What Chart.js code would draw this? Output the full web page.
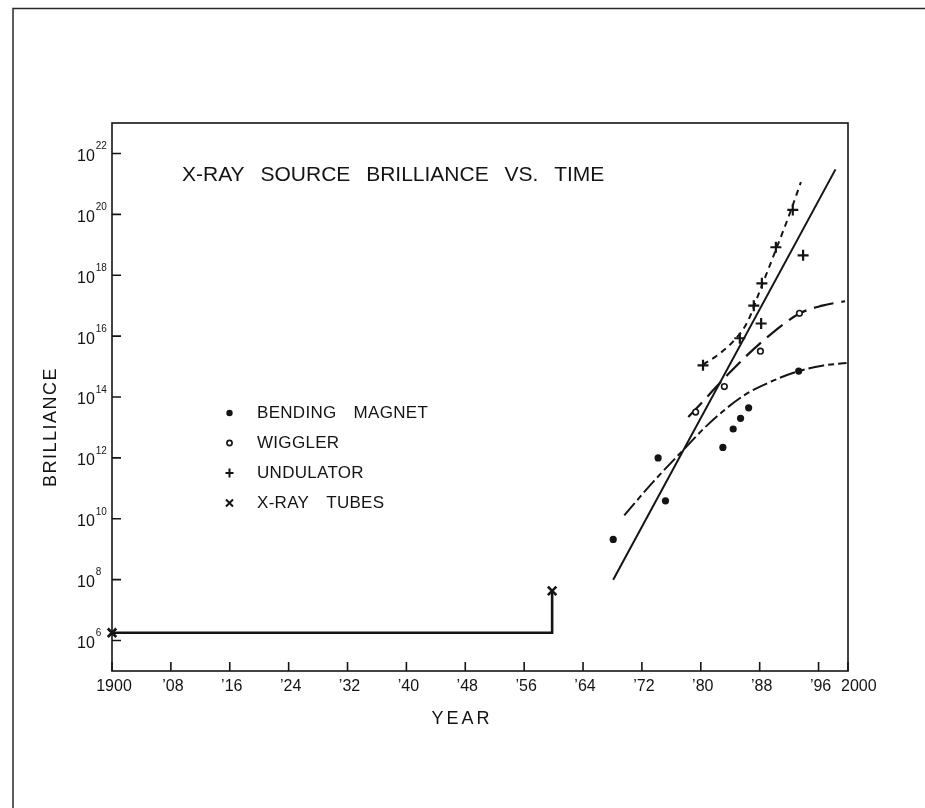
<!DOCTYPE html>
<html>
<head>
<meta charset="utf-8">
<title>X-Ray Source Brilliance vs. Time</title>
<script src="https://cdn.jsdelivr.net/npm/chart.js@4.4.1/dist/chart.umd.min.js"></script>
<style>
  html, body { margin: 0; padding: 0; background: #fff; }
  canvas { display: block; }
</style>
</head>
<body>
<canvas id="chart" width="925" height="808"></canvas>
<script>
// Axis ticks
const yearTicks = [1900, 1908, 1916, 1924, 1932, 1940, 1948, 1956, 1964, 1972, 1980, 1988, 1996, 2000];
const yearLabels = ['1900', '\u201908', '\u201916', '\u201924', '\u201932', '\u201940', '\u201948', '\u201956', '\u201964', '\u201972', '\u201980', '\u201988', '\u201996', '2000'];
const brillianceExponents = [6, 8, 10, 12, 14, 16, 18, 20, 22];

// Measured sources
const bendingYears  = [1968.1, 1974.2, 1975.2, 1983.0, 1984.4, 1985.4, 1986.5, 1993.3];
const bendingValues = [2.1e9, 1.0e12, 3.9e10, 2.2e12, 8.9e12, 2.0e13, 4.4e13, 7.1e14];

const wigglerYears  = [1979.3, 1983.2, 1988.1, 1993.4];
const wigglerValues = [3.2e13, 2.2e14, 3.2e15, 5.6e16];

const undulatorYears  = [1980.3, 1985.3, 1987.2, 1988.2, 1988.3, 1990.2, 1992.5, 1993.9];
const undulatorValues = [1.1e15, 8.5e15, 1.0e17, 2.6e16, 5.4e17, 8.3e18, 1.4e20, 4.5e18];

const tubeYears  = [1900, 1959.8];
const tubeValues = [1.8e6, 4.3e7];

// Trend curves
const trendYears  = [1968.1, 1998.3];
const trendValues = [1.0e8, 3.0e21];

const undulatorFitYears  = [1980.3, 1982.5, 1984.5, 1986.3, 1988.2, 1990.3, 1992.2, 1993.6];
const undulatorFitValues = [1.15e15, 2.6e15, 7.1e15, 2.8e16, 4.0e17, 7.9e18, 1.26e20, 1.15e21];

const wigglerFitYears  = [1978.3, 1981.0, 1983.8, 1988.3, 1993.4, 1996.5, 1999.6];
const wigglerFitValues = [2.2e13, 1.1e14, 5.9e14, 6.5e15, 5.5e16, 1.0e17, 1.4e17];

const bendingFitYears  = [1969.6, 1973.5, 1977.4, 1981.0, 1985.8, 1989.9, 1993.3, 1996.5, 1999.8];
const bendingFitValues = [1.3e10, 1.6e11, 1.6e12, 1.26e13, 1.1e14, 3.5e14, 7.1e14, 1.07e15, 1.3e15];

const INK = '#141414';
const FONT = '"Liberation Sans", Arial, sans-serif';

const pts = (xs, ys) => xs.map((x, i) => ({ x: x, y: ys[i] }));

function curve(xs, ys, dash, width) {
  return {
    data: pts(xs, ys),
    showLine: true,
    pointRadius: 0,
    borderColor: INK,
    borderWidth: width,
    borderDash: dash,
    cubicInterpolationMode: 'monotone',
    fill: false,
    clip: false,
    order: 5
  };
}

function drawLegendMarker(ctx, kind, x, y) {
  ctx.save();
  ctx.strokeStyle = INK;
  ctx.fillStyle = INK;
  ctx.lineWidth = 2;
  ctx.beginPath();
  if (kind === 'dot') {
    ctx.arc(x, y, 3.2, 0, Math.PI * 2);
    ctx.fill();
  } else if (kind === 'ring') {
    ctx.lineWidth = 1.6;
    ctx.arc(x, y, 2.6, 0, Math.PI * 2);
    ctx.stroke();
  } else if (kind === 'plus') {
    ctx.moveTo(x - 4, y); ctx.lineTo(x + 4, y);
    ctx.moveTo(x, y - 4.5); ctx.lineTo(x, y + 4.5);
    ctx.stroke();
  } else {
    ctx.moveTo(x - 3.5, y - 3.5); ctx.lineTo(x + 3.5, y + 3.5);
    ctx.moveTo(x + 3.5, y - 3.5); ctx.lineTo(x - 3.5, y + 3.5);
    ctx.stroke();
  }
  ctx.restore();
}

function spacedText(ctx, text, x, y, size, letter, word, align) {
  ctx.save();
  ctx.font = size + 'px ' + FONT;
  ctx.fillStyle = INK;
  ctx.textAlign = align || 'left';
  ctx.textBaseline = 'middle';
  ctx.letterSpacing = letter + 'px';
  ctx.wordSpacing = word + 'px';
  ctx.fillText(text, x, y);
  ctx.restore();
}

const decorations = {
  id: 'decorations',
  beforeDraw(chart) {
    const ctx = chart.ctx;
    ctx.save();
    ctx.fillStyle = '#fff';
    ctx.fillRect(0, 0, chart.width, chart.height);
    // page frame
    ctx.strokeStyle = '#2a2a2a';
    ctx.lineWidth = 1.5;
    ctx.beginPath();
    ctx.moveTo(13, chart.height);
    ctx.lineTo(13, 8.5);
    ctx.lineTo(chart.width, 8.5);
    ctx.stroke();
    ctx.restore();
  },
  beforeDatasetsDraw(chart) {
    const ctx = chart.ctx;
    const a = chart.chartArea;
    const xs = chart.scales.x;
    const ys = chart.scales.y;
    ctx.save();
    ctx.strokeStyle = INK;
    ctx.lineWidth = 1.6;
    ctx.strokeRect(a.left, a.top, a.right - a.left, a.bottom - a.top);

    // inward tick marks
    ctx.beginPath();
    xs.ticks.forEach(t => {
      const px = xs.getPixelForValue(t.value);
      ctx.moveTo(px, a.bottom);
      ctx.lineTo(px, a.bottom - 9);
    });
    ys.ticks.forEach(t => {
      const py = ys.getPixelForValue(t.value);
      ctx.moveTo(a.left, py);
      ctx.lineTo(a.left + 9, py);
    });
    ctx.stroke();

    // year labels; the final one sits just past the corner
    ctx.fillStyle = INK;
    ctx.textBaseline = 'middle';
    ctx.font = '16px ' + FONT;
    xs.ticks.forEach((t, i) => {
      const px = xs.getPixelForValue(t.value);
      const last = i === xs.ticks.length - 1;
      ctx.textAlign = last ? 'left' : 'center';
      ctx.fillText(yearLabels[i], last ? px - 7 : px + 2, a.bottom + 16);
    });

    // power-of-ten labels
    ys.ticks.forEach(t => {
      const py = ys.getPixelForValue(t.value) + 3;
      const exp = String(Math.round(Math.log10(t.value)));
      ctx.textAlign = 'left';
      ctx.font = '16px ' + FONT;
      const w = ctx.measureText('10').width;
      ctx.fillText('10', 77, py);
      ctx.font = '10px ' + FONT;
      ctx.fillText(exp, 77 + w + 1, py - 10);
    });
    ctx.restore();
  },
  afterDraw(chart) {
    const ctx = chart.ctx;
    // title
    spacedText(ctx, 'X-RAY SOURCE BRILLIANCE VS. TIME', 182, 175, 21, 0, 10, 'left');
    // axis titles
    spacedText(ctx, 'YEAR', 462, 719, 18, 3, 0, 'center');
    ctx.save();
    ctx.translate(51, 427);
    ctx.rotate(-Math.PI / 2);
    spacedText(ctx, 'BRILLIANCE', 0, 0, 18, 1.5, 0, 'center');
    ctx.restore();
    // key
    const rows = [
      ['dot', 'BENDING MAGNET', 413],
      ['ring', 'WIGGLER', 443],
      ['plus', 'UNDULATOR', 473],
      ['x', 'X-RAY TUBES', 503]
    ];
    rows.forEach(r => {
      drawLegendMarker(ctx, r[0], 229.5, r[2]);
      spacedText(ctx, r[1], 257, r[2], 17, 0.3, 12, 'left');
    });
  }
};

new Chart(document.getElementById('chart'), {
  type: 'scatter',
  data: {
    datasets: [
      // X-ray tubes: flat until 1960, then a step up
      {
        data: pts(tubeYears, tubeValues),
        showLine: true,
        stepped: 'before',
        borderColor: INK,
        borderWidth: 2.6,
        pointStyle: 'crossRot',
        pointRadius: 6,
        pointBorderWidth: 2.6,
        pointBorderColor: INK,
        clip: false,
        order: 1
      },
      curve(trendYears, trendValues, [], 2),
      curve(undulatorFitYears, undulatorFitValues, [6, 5], 2),
      curve(wigglerFitYears, wigglerFitValues, [20, 8], 2.2),
      curve(bendingFitYears, bendingFitValues, [16, 4, 6, 4], 2),
      {
        data: pts(bendingYears, bendingValues),
        pointStyle: 'circle',
        pointRadius: 3.6,
        pointBackgroundColor: INK,
        pointBorderColor: INK,
        pointBorderWidth: 0,
        clip: false,
        order: 0
      },
      {
        data: pts(wigglerYears, wigglerValues),
        pointStyle: 'circle',
        pointRadius: 2.8,
        pointBackgroundColor: '#fff',
        pointBorderColor: INK,
        pointBorderWidth: 1.6,
        clip: false,
        order: 0
      },
      {
        data: pts(undulatorYears, undulatorValues),
        pointStyle: 'cross',
        pointRadius: 5.5,
        pointBorderColor: INK,
        pointBorderWidth: 2.2,
        clip: false,
        order: 0
      }
    ]
  },
  options: {
    responsive: false,
    animation: false,
    devicePixelRatio: 1,
    layout: { padding: { top: 123, right: 77, bottom: 0, left: 0 } },
    plugins: { legend: { display: false }, tooltip: { enabled: false } },
    scales: {
      x: {
        type: 'linear',
        min: 1900,
        max: 2000,
        afterBuildTicks(scale) { scale.ticks = yearTicks.map(v => ({ value: v })); },
        afterFit(scale) { scale.height = 137; },
        grid: { display: false, drawTicks: false },
        border: { display: false },
        ticks: { display: false }
      },
      y: {
        type: 'logarithmic',
        min: 1e5,
        max: 1e23,
        afterBuildTicks(scale) { scale.ticks = brillianceExponents.map(e => ({ value: Math.pow(10, e) })); },
        afterFit(scale) { scale.width = 112; },
        grid: { display: false, drawTicks: false },
        border: { display: false },
        ticks: { display: false }
      }
    }
  },
  plugins: [decorations]
});
</script>
</body>
</html>
